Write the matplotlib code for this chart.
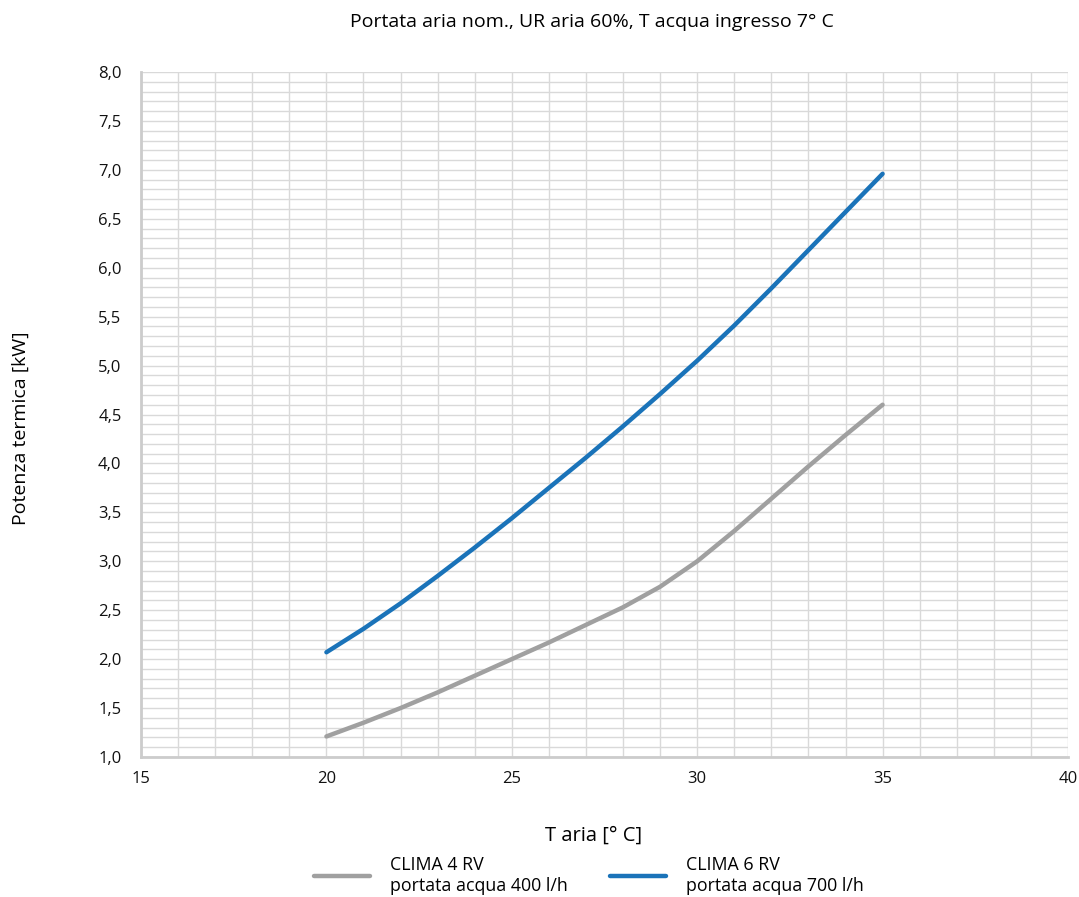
import matplotlib.pyplot as plt
from matplotlib.ticker import MultipleLocator

plt.rcParams['font.family'] = ['Open Sans', 'DejaVu Sans']

# T aria [°C]
t_aria = [20, 21, 22, 23, 24, 25, 26, 27, 28, 29, 30, 31, 32, 33, 34, 35]

# CLIMA 4 RV - portata acqua 400 l/h
clima4 = [1.21, 1.35, 1.50, 1.66, 1.83, 2.00, 2.17, 2.35, 2.53, 2.74, 3.00, 3.31, 3.64, 3.97, 4.29, 4.60]
# CLIMA 6 RV - portata acqua 700 l/h
clima6 = [2.07, 2.31, 2.57, 2.85, 3.14, 3.44, 3.75, 4.06, 4.38, 4.71, 5.05, 5.41, 5.79, 6.18, 6.57, 6.96]

x_ticks = [15, 20, 25, 30, 35, 40]
y_ticks = [1.0, 1.5, 2.0, 2.5, 3.0, 3.5, 4.0, 4.5, 5.0, 5.5, 6.0, 6.5, 7.0, 7.5, 8.0]
y_labels = ["1,0", "1,5", "2,0", "2,5", "3,0", "3,5", "4,0", "4,5", "5,0", "5,5", "6,0", "6,5", "7,0", "7,5", "8,0"]

fig = plt.figure(figsize=(10.79, 8.97), dpi=100)
ax = fig.add_axes([0.1307, 0.1561, 0.8591, 0.7636])

ax.plot(t_aria, clima4, color="#a0a0a0", lw=3.2, solid_capstyle="round",
        solid_joinstyle="round", label="CLIMA 4 RV\nportata acqua 400 l/h")
ax.plot(t_aria, clima6, color="#1a73b9", lw=3.2, solid_capstyle="round",
        solid_joinstyle="round", label="CLIMA 6 RV\nportata acqua 700 l/h")

ax.set_xlim(15, 40)
ax.set_ylim(1, 8)
ax.set_xticks(x_ticks)
ax.set_yticks(y_ticks)
ax.set_yticklabels(y_labels)
ax.xaxis.set_minor_locator(MultipleLocator(1))
ax.yaxis.set_minor_locator(MultipleLocator(0.1))
ax.grid(True, which="both", color="#d9d9d9", lw=1)
ax.set_axisbelow(True)
ax.tick_params(which="both", length=0, labelsize=12, colors="#111111")
ax.tick_params(axis="x", pad=10)
ax.tick_params(axis="y", pad=14)

for side in ["top", "right"]:
    ax.spines[side].set_visible(False)
for side in ["left", "bottom"]:
    ax.spines[side].set_color("#cccccc")
    ax.spines[side].set_linewidth(2)

fig.text(0.549, 0.975, "Portata aria nom., UR aria 60%, T acqua ingresso 7° C",
         ha="center", va="center", fontsize=14)
fig.text(0.019, 0.523, "Potenza termica [kW]", rotation=90,
         ha="center", va="center", fontsize=14)
fig.text(0.55, 0.068, "T aria [° C]", ha="center", va="center", fontsize=14.5)

fig.legend(loc="center", bbox_to_anchor=(0.546, 0.024), ncol=2, frameon=False,
           fontsize=12.8, handlelength=3.15, columnspacing=2.4, handletextpad=1.1,
           labelspacing=0.2)

plt.savefig("out.png", dpi=100)
